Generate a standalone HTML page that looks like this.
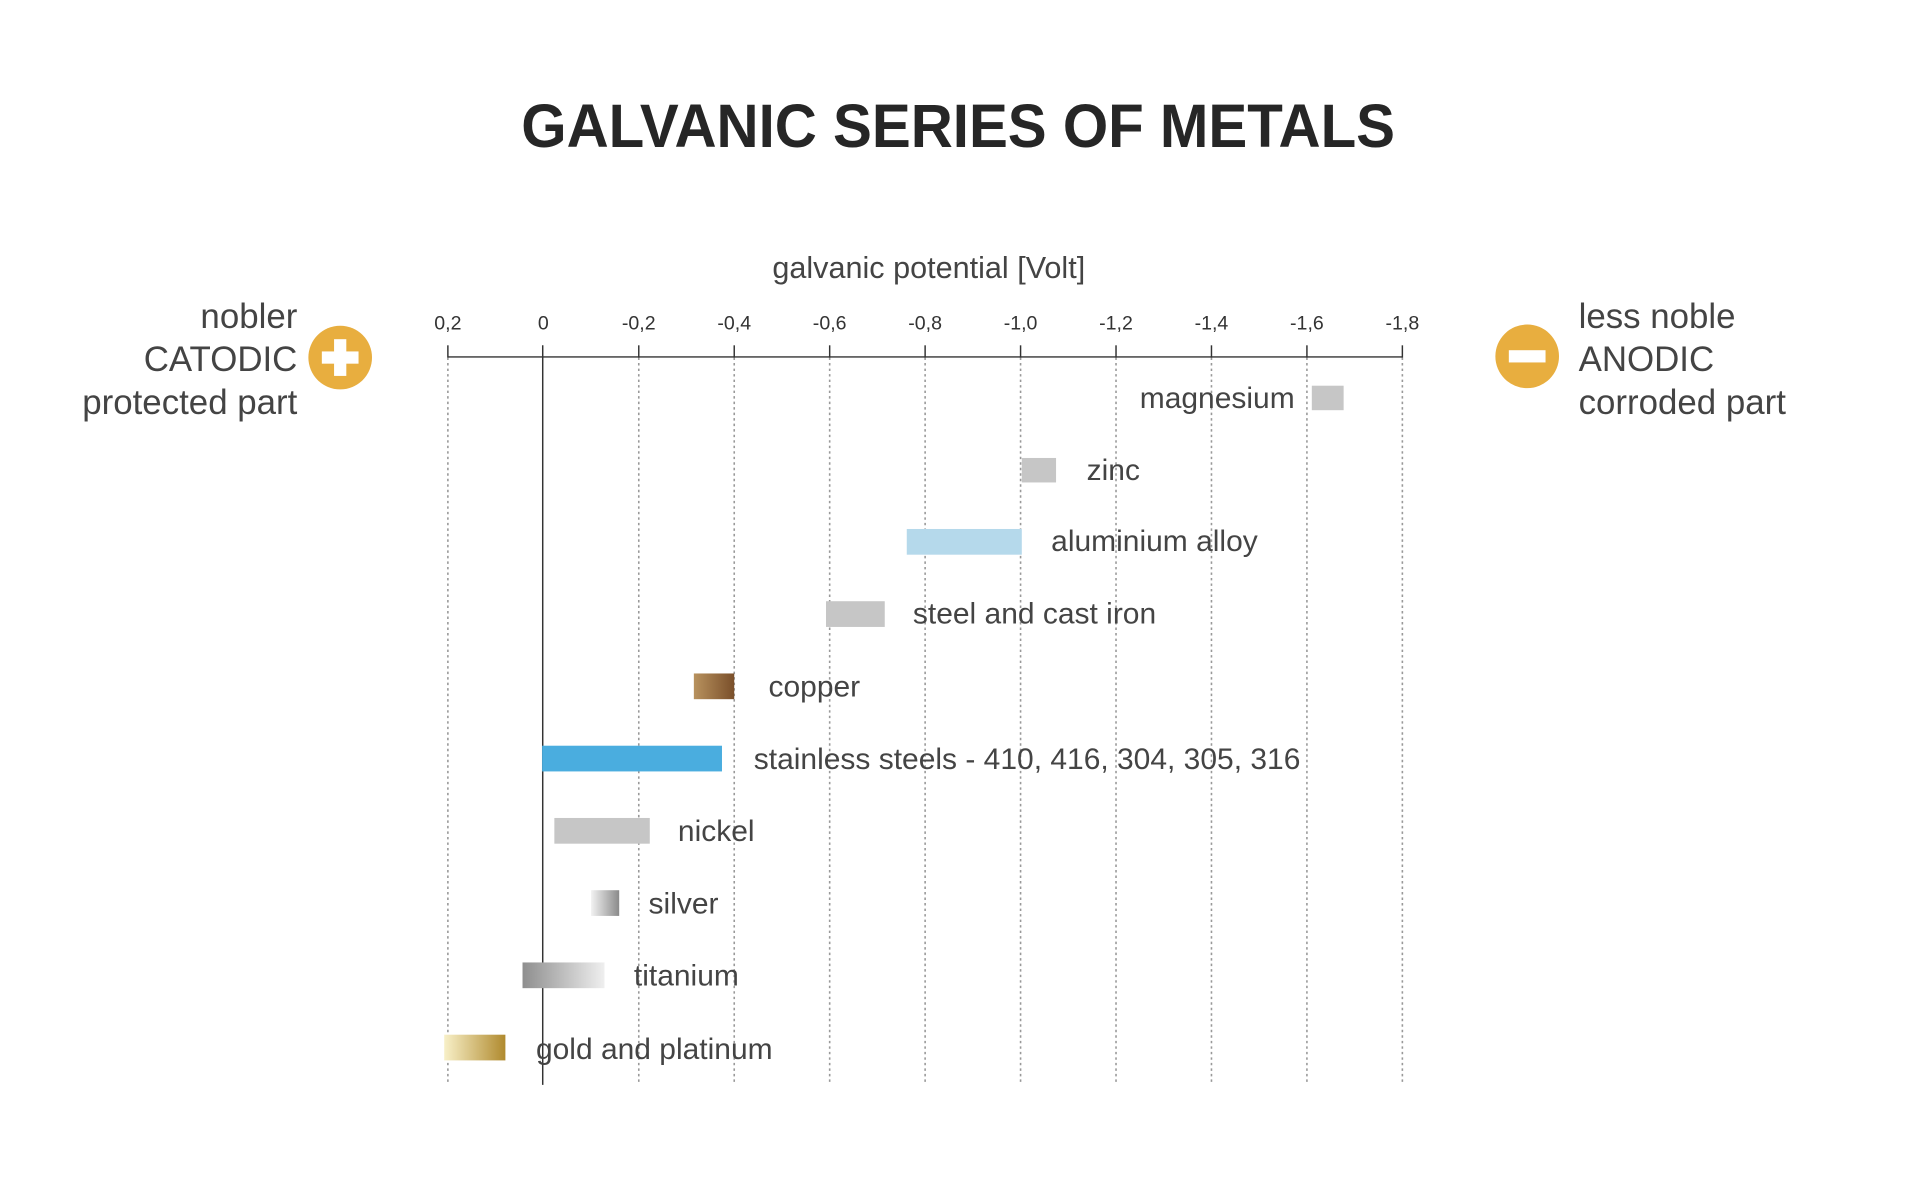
<!DOCTYPE html>
<html><head><meta charset="utf-8"><style>
html,body{margin:0;padding:0;background:#fff;width:1920px;height:1200px;overflow:hidden}
svg{display:block}
text{font-family:"Liberation Sans",sans-serif}
</style></head><body>
<svg width="1920" height="1200" viewBox="0 0 1569 980" preserveAspectRatio="none" xmlns="http://www.w3.org/2000/svg">
<defs>
<linearGradient id="cu" x1="0" x2="1"><stop offset="0" stop-color="#b8925e"/><stop offset="1" stop-color="#7a4f2a"/></linearGradient>
<linearGradient id="ag" x1="0" x2="1"><stop offset="0" stop-color="#f2f2f2"/><stop offset="1" stop-color="#8a8a8a"/></linearGradient>
<linearGradient id="ti" x1="0" x2="1"><stop offset="0" stop-color="#8e8e8e"/><stop offset="1" stop-color="#efefef"/></linearGradient>
<linearGradient id="au" x1="0" x2="1"><stop offset="0" stop-color="#f8f0c8"/><stop offset="1" stop-color="#b08a2e"/></linearGradient>
</defs>
<text x="783" y="120" text-anchor="middle" font-size="50" font-weight="bold" fill="#262626" textLength="714" lengthAdjust="spacingAndGlyphs">GALVANIC SERIES OF METALS</text>
<text x="759" y="227" text-anchor="middle" font-size="25" fill="#444">galvanic potential [Volt]</text>
<g font-size="16" fill="#333" text-anchor="middle">
<text x="366" y="269">0,2</text><text x="444" y="269">0</text><text x="522" y="269">-0,2</text><text x="600" y="269">-0,4</text><text x="678" y="269">-0,6</text><text x="756" y="269">-0,8</text><text x="834" y="269">-1,0</text><text x="912" y="269">-1,2</text><text x="990" y="269">-1,4</text><text x="1068" y="269">-1,6</text><text x="1146" y="269">-1,8</text>
</g>
<g stroke="#999" stroke-width="1.3" stroke-dasharray="2,2.5">
<line x1="366" y1="292" x2="366" y2="886"/><line x1="522" y1="292" x2="522" y2="886"/><line x1="600" y1="292" x2="600" y2="886"/><line x1="678" y1="292" x2="678" y2="886"/><line x1="756" y1="292" x2="756" y2="886"/><line x1="834" y1="292" x2="834" y2="886"/><line x1="912" y1="292" x2="912" y2="886"/><line x1="990" y1="292" x2="990" y2="886"/><line x1="1068" y1="292" x2="1068" y2="886"/><line x1="1146" y1="292" x2="1146" y2="886"/>
</g>
<g stroke="#333" stroke-width="1.2">
<line x1="366" y1="291.5" x2="1146" y2="291.5"/>
<line x1="443.5" y1="282" x2="443.5" y2="886"/>
<line x1="366" y1="282" x2="366" y2="292"/><line x1="522" y1="282" x2="522" y2="292"/><line x1="600" y1="282" x2="600" y2="292"/><line x1="678" y1="282" x2="678" y2="292"/><line x1="756" y1="282" x2="756" y2="292"/><line x1="834" y1="282" x2="834" y2="292"/><line x1="912" y1="282" x2="912" y2="292"/><line x1="990" y1="282" x2="990" y2="292"/><line x1="1068" y1="282" x2="1068" y2="292"/><line x1="1146" y1="282" x2="1146" y2="292"/>
</g>
<rect x="1072" y="315" width="26" height="20" fill="#c6c6c6"/>
<rect x="835" y="374" width="28" height="20" fill="#c6c6c6"/>
<rect x="741" y="432" width="94" height="21" fill="#b5d9eb"/>
<rect x="675" y="491" width="48" height="21" fill="#c6c6c6"/>
<rect x="567" y="550" width="33" height="21" fill="url(#cu)"/>
<rect x="443" y="609" width="147" height="21" fill="#4aaddf"/>
<rect x="453" y="668" width="78" height="21" fill="#c6c6c6"/>
<rect x="483" y="727" width="23" height="21" fill="url(#ag)"/>
<rect x="427" y="786" width="67" height="21" fill="url(#ti)"/>
<rect x="363" y="845" width="50" height="21" fill="url(#au)"/>
<g font-size="24.5" fill="#444">
<text x="1058" y="333" text-anchor="end">magnesium</text>
<text x="888" y="392">zinc</text>
<text x="859" y="450">aluminium alloy</text>
<text x="746" y="509">steel and cast iron</text>
<text x="628" y="569">copper</text>
<text x="616" y="628">stainless steels - 410, 416, 304, 305, 316</text>
<text x="554" y="687">nickel</text>
<text x="530" y="746">silver</text>
<text x="518" y="805">titanium</text>
<text x="438" y="865">gold and platinum</text>
</g>
<g font-size="28.5" fill="#444">
<text x="243" y="268" text-anchor="end">nobler</text>
<text x="243" y="303" text-anchor="end">CATODIC</text>
<text x="243" y="338" text-anchor="end">protected part</text>
<text x="1290" y="268">less noble</text>
<text x="1290" y="303">ANODIC</text>
<text x="1290" y="338">corroded part</text>
</g>
<circle cx="278" cy="292" r="26" fill="#e8ae3f"/>
<rect x="263" y="287" width="30" height="10" fill="#fff"/>
<rect x="273" y="277" width="10" height="30" fill="#fff"/>
<circle cx="1248" cy="291" r="26" fill="#e8ae3f"/>
<rect x="1233" y="286" width="30" height="10" fill="#fff"/>
</svg>
</body></html>
